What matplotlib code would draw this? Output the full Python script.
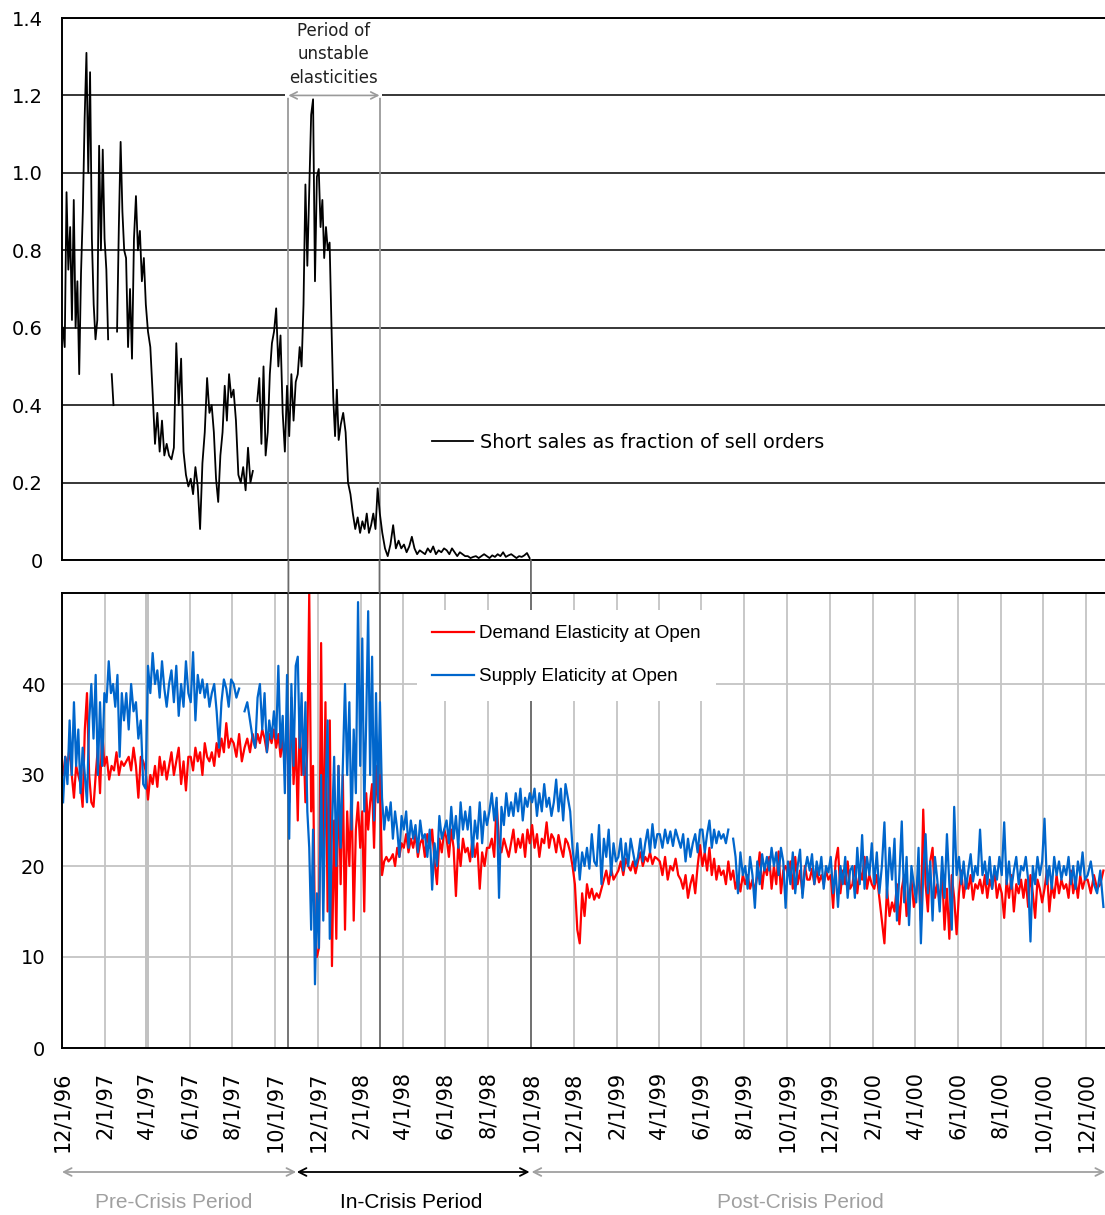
import numpy as np
import pandas as pd
import matplotlib
matplotlib.use("Agg")
import matplotlib.pyplot as plt
import matplotlib.dates as mdates
import matplotlib.transforms as mtransforms
from matplotlib.patches import ConnectionPatch

nan = float("nan")

# ---------------------------------------------------------------------------
# Short sales as a fraction of sell orders, one row of readings per month
# (Dec 1996 .. Sep 1998)
# ---------------------------------------------------------------------------
short_96 = [
    [0.60, 0.55, 0.95, 0.75, 0.86, 0.62, 0.93, 0.60, 0.72, 0.48, 0.74, 0.90],
]
short_97 = [
    [1.14, 1.31, 1.00, 1.26, 0.83, 0.66, 0.57, 0.62, 1.07, 0.80, 1.06, 0.83],
    [0.75, 0.57, nan, 0.48, 0.40, nan, 0.59, 0.86, 1.08, 0.90, 0.80],
    [0.78, 0.55, 0.70, 0.52, 0.83, 0.94, 0.80, 0.85, 0.72, 0.78, 0.66],
    [0.59, 0.55, 0.43, 0.30, 0.38, 0.28, 0.36, 0.27, 0.30],
    [0.27, 0.26, 0.29, 0.56, 0.40, 0.52, 0.28, 0.22, 0.19],
    [0.21, 0.17, 0.24, 0.19, 0.08, 0.25, 0.33, 0.47, 0.38],
    [0.40, 0.33, 0.21, 0.15, 0.27, 0.33, 0.45, 0.36, 0.48, 0.42],
    [0.44, 0.36, 0.22, 0.20, 0.24, 0.18, 0.29, 0.20, 0.23],
    [nan, 0.41, 0.47, 0.30, 0.50, 0.27, 0.33, 0.48, 0.56, 0.59],
    [0.65, 0.50, 0.58, 0.38, 0.28, 0.45, 0.32, 0.48, 0.36, 0.46],
    [0.48, 0.55, 0.50, 0.66, 0.97, 0.76, 0.95, 1.15, 1.19, 0.72, 0.99],
    [1.01, 0.86, 0.93, 0.78, 0.86, 0.80, 0.82, 0.61, 0.42, 0.32, 0.44, 0.31],
]
short_98 = [
    [0.35, 0.38, 0.33, 0.20, 0.17, 0.12, 0.08, 0.11, 0.07],
    [0.10, 0.08, 0.12, 0.07, 0.09, 0.12, 0.08, 0.185, 0.12],
    [0.07, 0.03, 0.01, 0.04, 0.09, 0.03, 0.05, 0.03],
    [0.04, 0.02, 0.035, 0.06, 0.03, 0.015, 0.025, 0.02],
    [0.015, 0.03, 0.02, 0.035, 0.015, 0.025, 0.02, 0.03],
    [0.025, 0.015, 0.03, 0.02, 0.01, 0.02, 0.015, 0.01],
    [0.01, 0.005, 0.008, 0.01, 0.005, 0.01, 0.015, 0.01],
    [0.005, 0.012, 0.008, 0.015, 0.01, 0.02, 0.008, 0.012],
    [0.015, 0.01, 0.005, 0.01, 0.008, 0.012, 0.018, 0.005],
]

# ---------------------------------------------------------------------------
# Demand elasticity at the open, one row per month (Dec 1996 .. Dec 2000)
# ---------------------------------------------------------------------------
demand_96 = [
    [30, 32, 31, 33, 30, 27.5, 31, 30, 29, 26.5],
]
demand_97 = [
    [35, 39, 30, 27, 26.5, 30, 33, 28, 35, 31],
    [32, 29.5, 31, 30.5, 32.5, 30, 31.5, 31],
    [31.5, 32, 30.5, 33, 31, 27.5, 32, 31.5, 30.5],
    [27.3, 30, 29, 31, 28.7, 32, 30, 31.5, 29.5],
    [31, 32.5, 30, 31.5, 33, 29, 31.5, 28.3, 32],
    [32, 30.5, 33, 31.5, 32.5, 30, 33.5, 32, 31.5],
    [32.5, 31, 33.5, 32, 34, 32.5, 35.7, 33, 34],
    [33.5, 32, 34.5, 31.5, 33, 34, 32.5, 34.5],
    [33, 34.5, 33.5, 35, 34, 32.5, 34.5, 33.5, 35],
    [33, 34.5, 32, 34, 31, 36, 27, 38.5, 29, 34],
    [25, 36, 30, 34, 27, 33, 50, 26, 31, 12, 10],
    [11, 44.5, 20, 38, 15, 36, 9, 25, 12, 31],
]
demand_98 = [
    [18, 30, 13, 26, 20, 29, 14, 24, 27, 22],
    [26, 15, 28, 24, 27, 29, 22, 31, 27, 30],
    [19, 20.5, 21, 20.5, 20.8, 21.3, 20, 22, 21, 22.5],
    [22, 23.5, 21.5, 23, 22, 23.5, 21, 22.5, 23],
    [21, 23.5, 22, 24, 20.5, 18, 23, 21.5, 24],
    [23, 21, 24, 22, 16.7, 22.5, 20, 23, 21.5],
    [22, 20.5, 23, 21, 22.5, 17.5, 21.5, 20, 22],
    [22, 23, 21, 27, 22.5, 21.5, 23, 22, 21],
    [22.5, 24, 21.5, 23, 22, 23.5, 21, 24, 22.5],
    [24.5, 22, 23.5, 21, 23, 22.5, 24.8, 22, 23.5],
    [23, 21.5, 23.4, 22, 21, 23, 22.5, 21.5, 20],
    [18, 13, 11.5, 17, 14.5, 18, 16.5, 17.5, 16.3],
]
demand_99 = [
    [17, 16.5, 17.5, 18.5, 19.5, 18, 19.7, 18.5, 19],
    [19.5, 20.5, 19, 20.8, 20, 19.5, 20.5, 19.2],
    [20.5, 21.5, 20, 21, 20.5, 21.5, 20.2, 21, 20.8],
    [20.5, 19, 21, 18.5, 20, 19.5, 20.8, 19],
    [18.5, 17.5, 19, 16.5, 18, 19, 17, 20, 22.3],
    [20, 21.5, 19.5, 22, 19, 20.8, 18.5, 20, 19],
    [19.5, 18, 20.5, 18.5, 19.5, 17.5, 18.8, 17.2, 19],
    [18, 19, 17.5, 18.5, 17.2, 19, 21.5, 17.5, 20],
    [19, 21, 17.5, 20, 18, 21.6, 17, 19.5, 20],
    [19, 20.5, 17.5, 21, 18, 19.5, 17, 20, 18.5],
    [18.5, 19.7, 18, 19.5, 18.2, 19, 18, 19.5, 18.5],
    [19, 15.4, 20.5, 22, 17, 19.5, 18, 20.5, 17.5],
]
demand_00 = [
    [18, 20, 17, 19.5, 18.5, 21, 17.5, 19, 18],
    [17.5, 19, 16.5, 14, 11.5, 17.5, 14.5, 16],
    [15, 18, 13.6, 17.5, 19, 14.5, 16.5, 18.5, 15.5],
    [17, 19.5, 14, 26.2, 18, 15, 20.5, 22, 16.5],
    [18, 16, 19.5, 13, 17.5, 12, 19, 16.5, 12.5],
    [17, 19.5, 16.5, 18.5, 17.5, 19, 16.3, 18, 17.5],
    [18.5, 17, 19, 16.5, 18.5, 17.5, 19.5, 16.5, 18],
    [17, 14.3, 18.5, 16.5, 19, 15, 18, 17, 18.5],
    [16.5, 18.5, 15.5, 19, 17, 14.3, 18.5, 17.5, 16],
    [17.5, 19.5, 15, 18, 16.5, 19, 17, 18.5, 17.5],
    [18, 16.5, 19.5, 17, 18.5, 16.5, 19, 17.5, 18.5],
    [18.5, 17, 19, 17.5, 18, 19.5],
]

# ---------------------------------------------------------------------------
# Supply elasticity at the open, one row per month (Dec 1996 .. Dec 2000)
# ---------------------------------------------------------------------------
supply_96 = [
    [27, 32, 29, 36, 30, 38, 31, 35, 28, 33],
]
supply_97 = [
    [30, 27, 36, 40, 34, 41, 30, 38, 31, 39],
    [38, 42.5, 39, 40, 37.5, 41, 32, 39, 36],
    [39, 35, 40, 37, 38, 34, 36, 29, 28.5],
    [42, 39, 43.4, 40, 41.5, 38.5, 42.5, 39.5, 37.5],
    [40, 41.5, 38, 42, 36.5, 40, 37.5, 42.5, 39],
    [38, 43.5, 36, 41, 39, 40.5, 38.5, 40, 37.5],
    [39, 40, 37, 33, 38, 40.5, 39.5, 37.5, 40.5],
    [40, 38.5, 39.5, nan, 37, 38, 36, 34],
    [33, 38.5, 40, 35, 39, 32.5, 36, 34, 37],
    [34, 42, 33, 36.5, 28, 41, 23, 40, 31, 42],
    [43, 33, 39, 30, 38, 26, 22, 13, 24, 7, 17],
    [11, 30, 14, 28, 36, 12, 24, 32, 20, 31],
]
supply_98 = [
    [22, 31, 40, 30, 38, 24, 35, 28, 49, 31],
    [45, 26, 36, 48, 30, 43, 25, 39, 27, 38],
    [27.5, 24, 26.5, 25, 27, 23, 26, 24, 21, 25.5],
    [24, 26, 22, 25, 23, 24.5, 21.5, 25, 23],
    [23.5, 21, 24, 17.4, 22.5, 20, 25.5, 23, 24],
    [25, 22.5, 26.5, 23, 25.5, 22, 27, 24, 26],
    [24, 26.5, 21, 25, 23, 27, 22.5, 26, 24.5],
    [26, 28, 25, 27.5, 16.5, 26.5, 24.5, 28, 25.5],
    [27, 25.5, 28, 26, 28.5, 25, 27.5, 26.5, 28],
    [27, 28.5, 25.5, 28, 26, 29, 26.5, 27.5, 25.5],
    [27, 29.5, 26, 28.5, 25, 29, 27.5, 26, 22],
    [19.5, 22.5, 18.5, 21.5, 20, 22, 19.7, 23.5, 20.5],
]
supply_99 = [
    [20, 24.5, 18, 23, 21, 24, 19, 22.5, 20.5],
    [21, 23, 19.5, 22.5, 20, 23, 21.5, 20],
    [21, 23, 20.5, 22.5, 24, 21.5, 24.6, 22, 23.5],
    [23.5, 22, 24, 22.5, 23.8, 22.2, 24, 23],
    [22, 23.5, 20.5, 23, 21, 22.5, 23.5, 21.5, 24],
    [24, 21.5, 23.5, 25, 22, 24, 22.5, 23.8, 23],
    [23.5, 22.5, 24, nan, 23, 21, 17, 21.5, 19],
    [20, 17.5, 21, 19, 15.4, 20.5, 18, 21.3, 19.5],
    [21, 19.5, 22, 20, 21.5, 19, 22, 20.5, 15.4],
    [20.5, 18, 21.5, 17, 20, 21.8, 16.5, 19.5, 21],
    [19.5, 21.3, 18, 20.5, 19, 21, 17.5, 20, 19.3],
    [21, 17, 19.5, 15.5, 20, 18, 21, 16.5, 19.5],
]
supply_00 = [
    [20, 16.5, 22, 18, 23.4, 17.5, 21, 19, 22.5],
    [18, 21.5, 17, 20, 24.8, 16.5, 22, 18.5],
    [23, 14, 19, 24.9, 16, 21, 13.5, 20, 18],
    [16, 22, 11.5, 19, 23.5, 17, 20.5, 14, 21],
    [18.5, 15, 21, 16.5, 23.5, 18, 13, 26.5, 19],
    [21, 18, 20.5, 17.5, 19.5, 21.3, 18.3, 20, 19],
    [24, 19, 20.5, 18, 21, 17.5, 20, 18.5, 21],
    [19, 24.8, 18, 20.5, 17.5, 19.5, 21, 18, 20],
    [19.5, 21, 18.5, 11.7, 20, 18, 21, 19, 20.5],
    [25.2, 18, 20, 17.5, 21, 19, 20.5, 18.5, 20],
    [19, 21, 18, 20, 17.5, 20.5, 19, 21.5, 18.5],
    [19, 20.5, 18, 17, 19.5, 15.5],
]

# Axis labels and annotation dates
tick_labels = ["12/1/96", "2/1/97", "4/1/97", "6/1/97", "8/1/97", "10/1/97",
               "12/1/97", "2/1/98", "4/1/98", "6/1/98", "8/1/98", "10/1/98",
               "12/1/98", "2/1/99", "4/1/99", "6/1/99", "8/1/99", "10/1/99",
               "12/1/99", "2/1/00", "4/1/00", "6/1/00", "8/1/00", "10/1/00",
               "12/1/00"]
top_ticks = [0, 0.2, 0.4, 0.6, 0.8, 1.0, 1.2, 1.4]
top_tick_labels = ["0", "0.2", "0.4", "0.6", "0.8", "1.0", "1.2", "1.4"]
bottom_ticks = [0, 10, 20, 30, 40]

unstable_bounds = ["1997-10-20", "1998-02-27"]
post_crisis_start = "1998-10-01"
period_names = ["Pre-Crisis Period", "In-Crisis Period", "Post-Crisis Period"]
period_starts = ["1996-12-01", "1997-11-01", "1998-10-02"]
period_ends = ["1997-10-31", "1998-09-29", "2000-12-28"]
period_label_at = ["1997-05-10", "1998-04-13", "1999-10-21"]

x_start = pd.Timestamp("1996-12-01")
x_end = pd.Timestamp("2000-12-28")


def monthly_series(rows, first_month):
    """Place each month's readings evenly through that month."""
    xs, ys = [], []
    first = pd.Timestamp(first_month)
    for i, row in enumerate(rows):
        start = first + pd.DateOffset(months=i)
        stop = min(start + pd.DateOffset(months=1), x_end)
        step = (stop - start) / len(row)
        for k, v in enumerate(row):
            xs.append(start + step * (k + 0.5))
            ys.append(v)
    return mdates.date2num(pd.DatetimeIndex(xs).to_pydatetime()), np.array(ys, dtype=float)


def dnum(s):
    return mdates.date2num(pd.Timestamp(s).to_pydatetime())


short_x, short_y = monthly_series(short_96 + short_97 + short_98, "1996-12-01")
dem_x, dem_y = monthly_series(demand_96 + demand_97 + demand_98 + demand_99 + demand_00, "1996-12-01")
sup_x, sup_y = monthly_series(supply_96 + supply_97 + supply_98 + supply_99 + supply_00, "1996-12-01")
tick_x = [dnum(pd.to_datetime(t, format="%m/%d/%y")) for t in tick_labels]

# ---------------------------------------------------------------------------
# Figure
# ---------------------------------------------------------------------------
W, H = 1105, 1215
plt.rcParams["font.family"] = ["DejaVu Sans"]
fig = plt.figure(figsize=(W / 100, H / 100), dpi=100)
fig.patch.set_facecolor("white")

ax1 = fig.add_axes([62 / W, (H - 560) / H, (W - 62) / W, 542 / H])
ax2 = fig.add_axes([62 / W, (H - 1048) / H, (W - 62) / W, 455 / H])

for ax in (ax1, ax2):
    ax.set_xlim(dnum(x_start), dnum(x_end))
    ax.spines["right"].set_visible(False)
    for side in ("left", "top", "bottom"):
        ax.spines[side].set_color("black")
        ax.spines[side].set_linewidth(1.4)

# ---- top panel: short sales ----
ax1.set_ylim(0, 1.4)
ax1.set_yticks(top_ticks, top_tick_labels)
ax1.set_xticks([])
ax1.yaxis.grid(True, color="black", lw=1.1)
ax1.tick_params(axis="y", length=0, pad=14, labelsize=14)
ax1.plot(short_x, short_y, color="black", lw=1.3, zorder=2,
         label="Short sales as fraction of sell orders")

d0, d1 = dnum(unstable_bounds[0]), dnum(unstable_bounds[1])
for d in (d0, d1):
    ax1.plot([d, d], [0, 1.2], color="#9a9a9a", lw=1.3, zorder=1.6)
ax1.plot([d0 - 5, d1 + 3], [1.2, 1.2], color="white", lw=4, zorder=2.5,
         solid_capstyle="butt")
ax1.annotate("", xy=(d1, 1.2), xytext=(d0, 1.2),
             arrowprops=dict(arrowstyle="<->,head_length=0.5,head_width=0.25",
                             color="#9a9a9a", lw=1.2, shrinkA=0, shrinkB=0),
             zorder=3)
ax1.text((d0 + d1) / 2, 1.222, "Period of\nunstable\nelasticities",
         ha="center", va="bottom", fontsize=12, color="#202020", linespacing=1.4)

ax1.legend(loc="center left", bbox_to_anchor=((432 - 62) / 1043, (560 - 442) / 542),
           frameon=False, borderaxespad=0, borderpad=0, handlelength=2.14,
           handletextpad=0.36, fontsize=13.8)

# ---- bottom panel: elasticities ----
ax2.set_ylim(0, 50)
ax2.set_yticks(bottom_ticks)
ax2.set_xticks(tick_x, tick_labels, rotation=90)
ax2.grid(True, color="#c4c4c4", lw=1.3)
ax2.tick_params(axis="y", length=0, pad=12, labelsize=14)
ax2.tick_params(axis="x", length=0, pad=17, labelsize=15)
ax2.axvline(dnum("1997-04-01"), color="#b4b4b4", lw=2.6, zorder=1.4)

post_d = dnum(post_crisis_start)
for d in (d0, d1, post_d):
    ax2.axvline(d, color="#6a6a6a", lw=1.3, zorder=1.6)
    fig.add_artist(ConnectionPatch(xyA=(d, 0.0), coordsA=ax1.transData,
                                   xyB=(d, 50), coordsB=ax2.transData,
                                   color="#6a6a6a", lw=1.3))

ax2.plot(dem_x, dem_y, color="#ff0000", lw=1.6, zorder=2,
         label="Demand Elasticity at Open")
ax2.plot(sup_x, sup_y, color="#0066cc", lw=1.6, zorder=2.1,
         label="Supply Elaticity at Open")

ax2.legend(loc="upper left",
           bbox_to_anchor=((417 - 62) / 1043, (1048 - 610) / 455),
           frameon=True, fancybox=False, framealpha=1.0,
           facecolor="white", edgecolor="none", borderaxespad=0,
           borderpad=0.82, handlelength=2.2, handletextpad=0.27,
           labelspacing=1.37,
           prop={"family": ["Liberation Sans", "DejaVu Sans"], "size": 13.5})

# ---- crisis period arrows beneath the date axis ----
trans = mtransforms.blended_transform_factory(ax2.transData, ax2.transAxes)
arrow_y = (1048 - 1172) / 455
label_y = (1048 - 1202) / 455
period_colors = ["#a0a0a0", "black", "#a0a0a0"]
for name, s, e, at, c in zip(period_names, period_starts, period_ends,
                             period_label_at, period_colors):
    ax2.annotate("", xy=(dnum(e), arrow_y), xytext=(dnum(s), arrow_y),
                 xycoords=trans, textcoords=trans, annotation_clip=False,
                 arrowprops=dict(arrowstyle="<->,head_length=0.55,head_width=0.28",
                                 color=c, lw=1.3, shrinkA=0, shrinkB=0))
    ax2.text(dnum(at), label_y, name, transform=trans, ha="center",
             va="center", fontsize=15, color=c,
             family=["Liberation Sans", "DejaVu Sans"])

fig.savefig("out.png", dpi=100, facecolor="white")
